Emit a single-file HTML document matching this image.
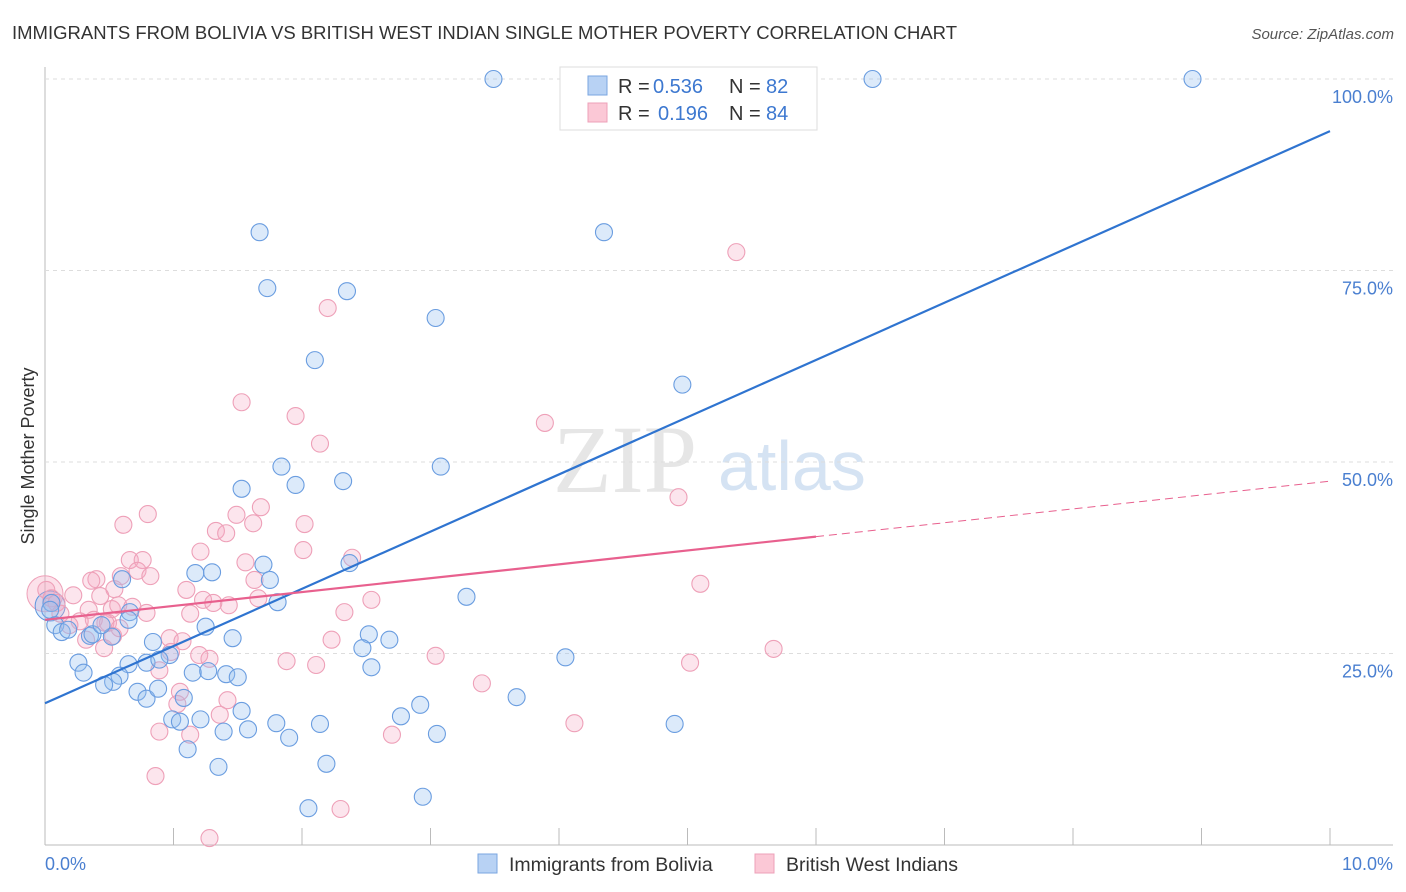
<!DOCTYPE html>
<html><head><meta charset="utf-8"><style>
body{margin:0;background:#fff;font-family:"Liberation Sans",sans-serif;}
svg{display:block}
</style></head><body>
<svg id="chart" width="1406" height="892">
<text x="12" y="39" font-size="18.5" fill="#333">IMMIGRANTS FROM BOLIVIA VS BRITISH WEST INDIAN SINGLE MOTHER POVERTY CORRELATION CHART</text>
<text x="1394" y="39" font-size="15" fill="#555" font-style="italic" text-anchor="end">Source: ZipAtlas.com</text>
<g><text x="553" y="492" font-size="96" fill="#e6e6e6" font-family="Liberation Serif,serif">ZIP</text><text x="718" y="490" font-size="70" fill="#d5e3f3">atlas</text></g>
<g id="grid"></g>
<g id="pts"></g>
<g id="trend"></g>
<text x="34" y="456" font-size="18" fill="#333" text-anchor="middle" transform="rotate(-90 34 456)">Single Mother Poverty</text>
<text x="45" y="870" font-size="18" fill="#4a7fd0">0.0%</text>
<text x="1393" y="870" font-size="18" fill="#4a7fd0" text-anchor="end">10.0%</text>
<g>
<rect x="560" y="67" width="257" height="63" fill="#fff" stroke="#ddd"/>
<rect x="588" y="76" width="19" height="19" fill="#b8d2f4" stroke="#7aa6e0"/>
<rect x="588" y="103" width="19" height="19" fill="#fbc8d6" stroke="#eea0b8"/>
<text x="618" y="93" font-size="20" fill="#333">R =</text>
<text x="653" y="93" font-size="20" fill="#3d78d0">0.536</text>
<text x="729" y="93" font-size="20" fill="#333">N =</text>
<text x="766" y="93" font-size="20" fill="#3d78d0">82</text>
<text x="618" y="120" font-size="20" fill="#333">R =</text>
<text x="658" y="120" font-size="20" fill="#3d78d0">0.196</text>
<text x="729" y="120" font-size="20" fill="#333">N =</text>
<text x="766" y="120" font-size="20" fill="#3d78d0">84</text>
</g>
<g>
<rect x="478" y="854" width="19" height="19" fill="#b8d2f4" stroke="#7aa6e0"/>
<text x="509" y="871" font-size="19.5" fill="#333">Immigrants from Bolivia</text>
<rect x="755" y="854" width="19" height="19" fill="#fbc8d6" stroke="#eea0b8"/>
<text x="786" y="871" font-size="19.5" fill="#333">British West Indians</text>
</g>
</svg>
<script>
const yTicks=[25,50,75,100];
const yTickLabels=["25.0%","50.0%","75.0%","100.0%"];
const xTicks=[1,2,3,4,5,6,7,8,9,10];
const blueX=[3.49,6.44,8.93,1.67,4.35,1.73,2.35,3.04,2.10,4.96,1.84,3.08,1.95,2.32,1.53,2.37,1.70,1.17,1.30,1.75,0.60,1.81,3.28,0.66,0.05,0.04,0.08,0.13,0.18,0.35,0.37,0.52,0.44,0.65,1.25,1.46,0.84,2.52,2.68,2.47,4.05,0.26,0.30,0.65,0.79,0.97,1.15,1.27,1.41,1.50,0.89,0.58,0.53,0.46,0.72,0.79,0.88,1.08,2.54,3.67,2.92,2.77,1.53,0.99,1.05,1.21,1.80,2.14,1.58,1.39,1.90,3.05,4.90,1.11,1.35,2.19,2.05,2.94];
const blueY=[100,100,100,80.0,80.0,72.7,72.3,68.8,63.3,60.1,49.4,49.4,47.0,47.5,46.5,36.8,36.6,35.5,35.6,34.6,34.7,31.7,32.4,30.4,31.6,30.7,28.7,27.8,28.1,27.3,27.5,27.2,28.7,29.4,28.5,27.0,26.5,27.5,26.8,25.7,24.5,23.8,22.5,23.6,23.8,24.8,22.5,22.7,22.3,21.9,24.2,22.1,21.3,20.9,20.0,19.1,20.4,19.2,23.2,19.3,18.3,16.8,17.5,16.4,16.1,16.4,15.9,15.8,15.1,14.8,14.0,14.5,15.8,12.5,10.2,10.6,4.8,6.3];
const pinkX=[5.38,2.20,1.53,1.95,3.89,2.14,4.93,0.80,0.61,1.68,2.02,1.62,1.33,1.41,1.49,2.01,1.21,2.39,0.66,0.76,1.56,0.40,0.59,0.36,0.72,0.82,1.10,0.54,5.10,1.63,1.66,2.54,1.23,1.43,1.31,0.01,0.05,0.09,0.22,0.43,0.52,0.57,0.68,0.79,1.13,0.49,0.34,2.33,0.38,0.47,0.12,0.27,0.19,0.53,0.32,0.97,1.07,2.23,3.04,1.20,1.28,0.58,0.46,0.98,1.88,2.11,5.67,5.02,0.89,3.40,1.05,1.42,1.03,1.36,4.12,0.89,1.13,2.70,0.86,2.30,1.28];
const pinkY=[77.4,70.1,57.8,56.0,55.1,52.4,45.4,43.2,41.8,44.1,41.9,42.0,41.0,40.7,43.1,38.5,38.3,37.5,37.2,37.2,36.9,34.7,35.1,34.5,35.8,35.1,33.3,33.4,34.1,34.6,32.2,32.0,32.0,31.3,31.6,33.3,32.2,31.6,32.6,32.5,30.8,31.3,31.1,30.3,30.2,29.0,30.7,30.4,29.4,29.0,30.2,29.2,28.7,27.3,26.8,27.0,26.6,26.8,24.7,24.8,24.3,28.3,25.7,25.2,24.0,23.5,25.6,23.8,22.8,21.1,20.0,18.9,18.4,17.0,15.9,14.8,14.4,14.4,9.0,4.7,0.9];
const blueTrend=[18.5,93.2];
const pinkTrend=[29.4,47.5];
const pinkSolidEnd=6.0;

const NS="http://www.w3.org/2000/svg";
const X=v=>45+v*128.5, Y=v=>845-v*7.66;
function mk(tag,attrs,parent){const e=document.createElementNS(NS,tag);for(const k in attrs)e.setAttribute(k,attrs[k]);parent.appendChild(e);return e;}
const grid=document.getElementById('grid'),pts=document.getElementById('pts'),tr=document.getElementById('trend');
const ax=mk('line',{x1:45,y1:67,x2:45,y2:845,stroke:'#bbb'},grid);


const bx=mk('line',{x1:45,y1:845,x2:1393,y2:845,stroke:'#bbb'},grid);


yTicks.forEach((t,i)=>{
 const l=mk('line',{x1:45,y1:Y(t),x2:1393,y2:Y(t),stroke:'#ddd','stroke-dasharray':'4,4'},grid);
 
 
 const tx=mk('text',{x:1393,y:Y(t)+24,'font-size':18,fill:'#4a7fd0','text-anchor':'end'},grid);
 tx.textContent=yTickLabels[i];
 
 
});
xTicks.forEach(t=>{
 const l=mk('line',{x1:X(t),y1:828,x2:X(t),y2:845,stroke:'#bbb'},grid);
 
 
});
const big1=mk('circle',{cx:X(0),cy:Y(32.8),r:18,fill:'rgba(246,170,195,0.35)',stroke:'#eea0b8'},pts);


const big2=mk('circle',{cx:X(0.04),cy:Y(31.2),r:15,fill:'rgba(150,190,240,0.35)',stroke:'#5e95dd'},pts);


pinkX.forEach((v,i)=>{
 const c=mk('circle',{cx:X(v),cy:Y(pinkY[i]),r:8.5,fill:'rgba(246,170,195,0.3)',stroke:'#eea0b8','stroke-width':1.1},pts);
 
 
});
blueX.forEach((v,i)=>{
 const c=mk('circle',{cx:X(v),cy:Y(blueY[i]),r:8.5,fill:'rgba(150,190,240,0.33)',stroke:'#6a9de0','stroke-width':1.1},pts);
 
 
});
const bl=mk('line',{x1:X(0),y1:Y(blueTrend[0]),x2:X(10),y2:Y(blueTrend[1]),stroke:'#2f74d0','stroke-width':2.2},tr);


const pm=pinkTrend[0]+(pinkTrend[1]-pinkTrend[0])*pinkSolidEnd/10;
const pl=mk('line',{x1:X(0),y1:Y(pinkTrend[0]),x2:X(pinkSolidEnd),y2:Y(pm),stroke:'#e8608e','stroke-width':2.2},tr);


const pd=mk('line',{x1:X(pinkSolidEnd),y1:Y(pm),x2:X(10),y2:Y(pinkTrend[1]),stroke:'#e8608e','stroke-width':1,'stroke-dasharray':'8,5'},tr);


</script>
</body></html>
